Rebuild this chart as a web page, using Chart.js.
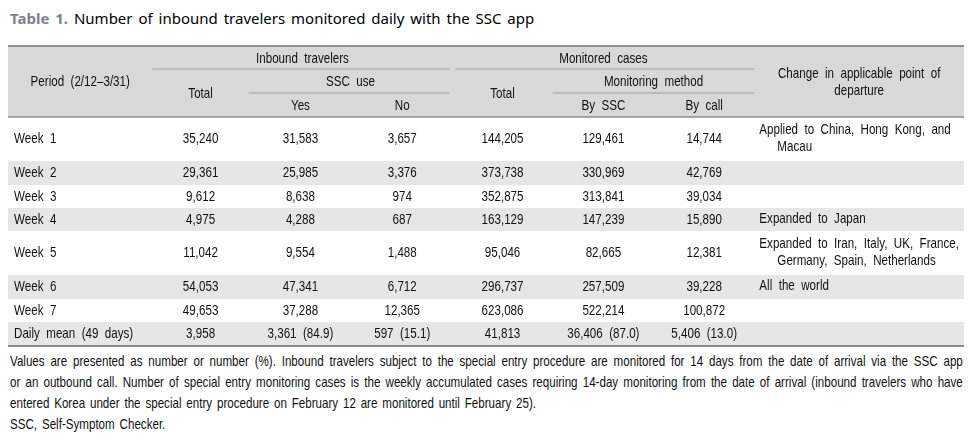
<!DOCTYPE html>
<html>
<head>
<meta charset="utf-8">
<script src="https://cdn.jsdelivr.net/npm/chart.js@4.4.0/dist/chart.umd.min.js"></script>
<style>
  html, body { margin: 0; padding: 0; background: #fff; }
  body { width: 972px; height: 444px; position: relative; overflow: hidden; }
  #title { position: absolute; left: 10px; top: 8px; font: 15px 'Noto Sans', sans-serif; word-spacing: 2px; color: #000; white-space: nowrap; }
  #title b { color: #7d8189; }
  #wrap { position: absolute; left: 8px; top: 45px; width: 956px; height: 302px; }
  #notes { position: absolute; left: 10px; top: 351px; width: 1191px; transform: scaleX(0.8); transform-origin: 0 0; font: 14.5px 'Liberation Sans', Arial, sans-serif; line-height: 21px; color: #111; word-spacing: 2px; }
  #notes div { white-space: nowrap; }
  #notes .j { text-align: justify; text-align-last: justify; white-space: normal; }
</style>
</head>
<body>
<div id="title"><b>Table 1.</b> Number of inbound travelers monitored daily with the SSC app</div>
<div id="wrap"><canvas id="tableChart"></canvas></div>
<div id="notes">
  <div class="j">Values are presented as number or number (%). Inbound travelers subject to the special entry procedure are monitored for 14 days from the date of arrival via the SSC app</div>
  <div class="j">or an outbound call. Number of special entry monitoring cases is the weekly accumulated cases requiring 14-day monitoring from the date of arrival (inbound travelers who have</div>
  <div>entered Korea under the special entry procedure on February 12 are monitored until February 25).</div>
  <div>SSC, Self-Symptom Checker.</div>
</div>
<script>
// данные таблицы
const periods = ['Week 1', 'Week 2', 'Week 3', 'Week 4', 'Week 5', 'Week 6', 'Week 7', 'Daily mean (49 days)'];
const travelersTotal = [35240, 29361, 9612, 4975, 11042, 54053, 49653, 3958];
const sscYes = [31583, 25985, 8638, 4288, 9554, 47341, 37288, 3361];
const sscNo = [3657, 3376, 974, 687, 1488, 6712, 12365, 597];
const monitoredTotal = [144205, 373738, 352875, 163129, 95046, 296737, 623086, 41813];
const bySSC = [129461, 330969, 313841, 147239, 82665, 257509, 522214, 36406];
const byCall = [14744, 42769, 39034, 15890, 12381, 39228, 100872, 5406];
// проценты для строки "Daily mean", по числовым колонкам
const dailyMeanPct = [null, 84.9, 15.1, null, 87.0, 13.0];
const departureChanges = [
    ['Applied to China, Hong Kong, and', 'Macau'],
    [],
    [],
    ['Expanded to Japan'],
    ['Expanded to Iran, Italy, UK, France,', 'Germany, Spain, Netherlands'],
    ['All the world'],
    [],
    []
];
const columnLabels = ['Period (2/12\u20133/31)', 'Total', 'Yes', 'No', 'Total', 'By SSC', 'By call'];

// разметка (в единицах шкал)
const colEdges = [0, 144, 240, 343, 443, 543, 644, 744, 953];
const headerHeight = 72;
const rowHeights = [44, 24, 23, 23, 44, 24, 23, 24];
const tableHeight = 302;
const tableWidth = 953;
const noteIndent = 18;
const fontFamily = '"Liberation Sans", Arial, sans-serif';
const narrow = 0.8;

const rowTop = [];
let acc = headerHeight;
rowHeights.forEach(h => { rowTop.push(acc); acc += h; });
const rowMid = rowHeights.map((h, i) => rowTop[i] + h / 2);
const colMid = colEdges.slice(0, -1).map((e, i) => (e + colEdges[i + 1]) / 2);

const numericColumns = [travelersTotal, sscYes, sscNo, monitoredTotal, bySSC, byCall];
const fmt = n => n.toLocaleString('en-US');

function cellText(c, i) {
    const v = fmt(numericColumns[c][i]);
    if (i === periods.length - 1 && dailyMeanPct[c] !== null) {
        return v + ' (' + dailyMeanPct[c].toFixed(1) + ')';
    }
    return v;
}

const datasets = [];
datasets.push({
    label: 'Period',
    data: periods.map((p, i) => ({x: colEdges[0] + 6, y: rowMid[i]})),
    texts: periods,
    align: 'left'
});
numericColumns.forEach((col, c) => {
    datasets.push({
        label: columnLabels[c + 1],
        data: col.map((v, i) => ({x: colMid[c + 1], y: rowMid[i]})),
        texts: col.map((v, i) => cellText(c, i)),
        align: 'center'
    });
});
datasets.push({
    label: 'Change',
    data: departureChanges.map((t, i) => ({x: colEdges[7] + 5, y: rowMid[i] - 1})),
    texts: departureChanges,
    align: 'left',
    multiline: true
});

function setFont(ctx) {
    ctx.font = '14.5px ' + fontFamily;
    ctx.fillStyle = '#111';
    ctx.textBaseline = 'middle';
    if ('wordSpacing' in ctx) ctx.wordSpacing = '4px';
}

// узкий шрифт: сжимаем текст по горизонтали
function drawText(ctx, s, x, y, align) {
    ctx.save();
    ctx.translate(x, y);
    ctx.scale(narrow, 1);
    ctx.textAlign = align;
    ctx.fillText(s, 0, 0);
    ctx.restore();
}

const tablePlugin = {
    id: 'tableGrid',
    beforeDatasetsDraw(chart) {
        const {ctx, scales: {x, y}} = chart;
        const px = v => x.getPixelForValue(v);
        const py = v => y.getPixelForValue(v);
        ctx.save();

        // фон шапки и полосы строк
        ctx.fillStyle = '#d8d8d8';
        ctx.fillRect(px(0), py(0), px(tableWidth) - px(0), py(headerHeight) - py(0));
        ctx.fillStyle = '#e6e6e6';
        rowHeights.forEach((h, i) => {
            if (i % 2 === 1) {
                ctx.fillRect(px(0), py(rowTop[i]), px(tableWidth) - px(0), py(rowTop[i] + h) - py(rowTop[i]));
            }
        });

        const hline = (x0, x1, yv, w, color) => {
            ctx.beginPath();
            ctx.lineWidth = w;
            ctx.strokeStyle = color;
            ctx.moveTo(px(x0), py(yv));
            ctx.lineTo(px(x1), py(yv));
            ctx.stroke();
        };
        hline(0, tableWidth, 1, 2, '#909090');
        hline(0, tableWidth, headerHeight, 1.5, '#909090');
        hline(0, tableWidth, tableHeight - 1, 2, '#8a8a8a');
        hline(colEdges[1], colEdges[4] - 3, 24, 1, '#9c9c9c');
        hline(colEdges[4] + 3, colEdges[7], 24, 1, '#9c9c9c');
        hline(colEdges[2], colEdges[4] - 3, 48, 1, '#9c9c9c');
        hline(colEdges[5], colEdges[7], 48, 1, '#9c9c9c');

        // тексты шапки
        setFont(ctx);
        const t = (s, xv, yv) => drawText(ctx, s, px(xv), py(yv), 'center');
        t(columnLabels[0], colMid[0], 37);
        t('Inbound travelers', (colEdges[1] + colEdges[4]) / 2, 14);
        t('SSC use', (colEdges[2] + colEdges[4]) / 2, 37);
        t(columnLabels[1], colMid[1], 49);
        t(columnLabels[2], colMid[2], 61);
        t(columnLabels[3], colMid[3], 61);
        t('Monitored cases', (colEdges[4] + colEdges[7]) / 2, 14);
        t('Monitoring method', (colEdges[5] + colEdges[7]) / 2, 37);
        t(columnLabels[4], colMid[4], 49);
        t(columnLabels[5], colMid[5], 61);
        t(columnLabels[6], colMid[6], 61);
        t('Change in applicable point of', colMid[7], 29);
        t('departure', colMid[7], 46);
        ctx.restore();
    },
    afterDatasetsDraw(chart) {
        const {ctx} = chart;
        ctx.save();
        setFont(ctx);
        chart.data.datasets.forEach((ds, d) => {
            const meta = chart.getDatasetMeta(d);
            meta.data.forEach((pt, i) => {
                if (ds.multiline) {
                    const lines = ds.texts[i];
                    const lh = 17;
                    const y0 = pt.y - (lines.length - 1) * lh / 2;
                    lines.forEach((line, k) => {
                        drawText(ctx, line, pt.x + (k > 0 ? noteIndent : 0), y0 + k * lh, ds.align);
                    });
                } else {
                    drawText(ctx, ds.texts[i], pt.x, pt.y, ds.align);
                }
            });
        });
        ctx.restore();
    }
};

new Chart(document.getElementById('tableChart'), {
    type: 'scatter',
    data: {datasets},
    options: {
        responsive: true,
        maintainAspectRatio: false,
        animation: false,
        events: [],
        layout: {padding: 0},
        elements: {point: {radius: 0, hoverRadius: 0}},
        plugins: {
            legend: {display: false},
            tooltip: {enabled: false}
        },
        scales: {
            x: {type: 'linear', min: 0, max: tableWidth, display: false},
            y: {type: 'linear', min: 0, max: tableHeight, reverse: true, display: false}
        }
    },
    plugins: [tablePlugin]
});
</script>
</body>
</html>
